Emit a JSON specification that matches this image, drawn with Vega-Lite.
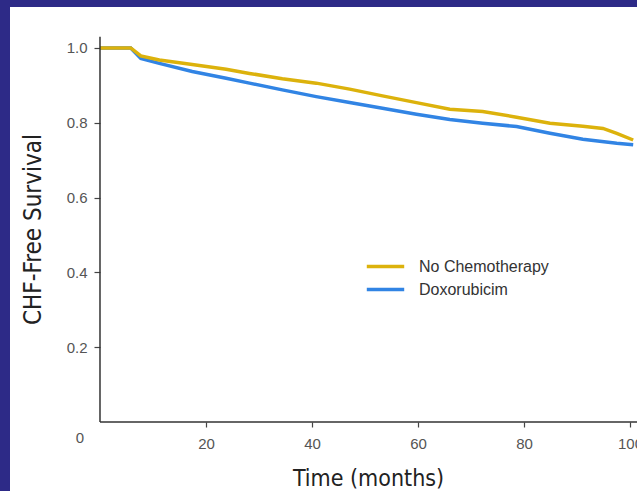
{
  "$schema": "https://vega.github.io/schema/vega-lite/v6.json",
  "width": 627,
  "height": 484,
  "autosize": {"type": "none"},
  "padding": {"left": 10, "top": 7, "right": 0, "bottom": 0},
  "background": "#2d2a87",
  "config": {
    "view": {"stroke": null, "fill": "#ffffff"},
    "font": "Liberation Sans"
  },
  "datasets": {
    "curves": [
      {"t": 0, "s": 1.0, "group": "Doxorubicim"},
      {"t": 5.8, "s": 1.0, "group": "Doxorubicim"},
      {"t": 7.7, "s": 0.972, "group": "Doxorubicim"},
      {"t": 11.2, "s": 0.959, "group": "Doxorubicim"},
      {"t": 17.4, "s": 0.937, "group": "Doxorubicim"},
      {"t": 23.8, "s": 0.919, "group": "Doxorubicim"},
      {"t": 28.2, "s": 0.906, "group": "Doxorubicim"},
      {"t": 34.4, "s": 0.888, "group": "Doxorubicim"},
      {"t": 40.8, "s": 0.870, "group": "Doxorubicim"},
      {"t": 47.1, "s": 0.854, "group": "Doxorubicim"},
      {"t": 53.3, "s": 0.839, "group": "Doxorubicim"},
      {"t": 59.7, "s": 0.823, "group": "Doxorubicim"},
      {"t": 66.0, "s": 0.809, "group": "Doxorubicim"},
      {"t": 72.2, "s": 0.799, "group": "Doxorubicim"},
      {"t": 78.6, "s": 0.790, "group": "Doxorubicim"},
      {"t": 84.9, "s": 0.772, "group": "Doxorubicim"},
      {"t": 91.1, "s": 0.756, "group": "Doxorubicim"},
      {"t": 97.5, "s": 0.745, "group": "Doxorubicim"},
      {"t": 100.6, "s": 0.741, "group": "Doxorubicim"},
      {"t": 0, "s": 1.0, "group": "No Chemotherapy"},
      {"t": 5.8, "s": 1.0, "group": "No Chemotherapy"},
      {"t": 7.7, "s": 0.979, "group": "No Chemotherapy"},
      {"t": 11.2, "s": 0.968, "group": "No Chemotherapy"},
      {"t": 17.4, "s": 0.956, "group": "No Chemotherapy"},
      {"t": 23.8, "s": 0.943, "group": "No Chemotherapy"},
      {"t": 28.2, "s": 0.932, "group": "No Chemotherapy"},
      {"t": 34.4, "s": 0.918, "group": "No Chemotherapy"},
      {"t": 40.8, "s": 0.906, "group": "No Chemotherapy"},
      {"t": 47.1, "s": 0.890, "group": "No Chemotherapy"},
      {"t": 53.3, "s": 0.872, "group": "No Chemotherapy"},
      {"t": 59.7, "s": 0.854, "group": "No Chemotherapy"},
      {"t": 66.0, "s": 0.836, "group": "No Chemotherapy"},
      {"t": 72.2, "s": 0.830, "group": "No Chemotherapy"},
      {"t": 78.6, "s": 0.815, "group": "No Chemotherapy"},
      {"t": 84.9, "s": 0.799, "group": "No Chemotherapy"},
      {"t": 91.1, "s": 0.791, "group": "No Chemotherapy"},
      {"t": 94.9, "s": 0.785, "group": "No Chemotherapy"},
      {"t": 97.5, "s": 0.772, "group": "No Chemotherapy"},
      {"t": 100.6, "s": 0.754, "group": "No Chemotherapy"}
    ],
    "single": [{"label": "0"}]
  },
  "layer": [
    {
      "data": {"name": "curves"},
      "mark": {"type": "line", "strokeWidth": 3.5, "interpolate": "linear"},
      "encoding": {
        "x": {
          "field": "t",
          "type": "quantitative",
          "scale": {"domain": [-16.98, 101.32], "nice": false, "zero": false},
          "axis": {
            "orient": "bottom",
            "offset": -69,
            "domain": false,
            "grid": false,
            "values": [20, 40, 60, 80, 100],
            "tickSize": 5,
            "tickColor": "#444",
            "tickWidth": 1.2,
            "labelPadding": 9,
            "labelFontSize": 15,
            "labelColor": "#555",
            "labelFont": "Liberation Sans",
            "title": "Time (months)",
            "titleFont": "'Liberation Sans Narrow', 'DejaVu Sans Condensed', sans-serif",
            "titleFontSize": 23,
            "titleFontWeight": "normal",
            "titleColor": "#222",
            "titleX": 358,
            "titleY": 63,
            "titleAlign": "center",
            "titleBaseline": "alphabetic"
          }
        },
        "y": {
          "field": "s",
          "type": "quantitative",
          "scale": {"domain": [-0.1845, 1.1096], "nice": false, "zero": false},
          "axis": {
            "orient": "left",
            "offset": -90,
            "domain": false,
            "grid": false,
            "values": [0.2, 0.4, 0.6, 0.8, 1.0],
            "format": ".1f",
            "tickSize": 6,
            "tickColor": "#444",
            "tickWidth": 1.2,
            "labelPadding": 7,
            "labelFontSize": 15,
            "labelColor": "#555",
            "labelFont": "Liberation Sans",
            "title": "CHF-Free Survival",
            "titleFont": "'Liberation Sans Narrow', 'DejaVu Sans Condensed', sans-serif",
            "titleFontSize": 24,
            "titleFontWeight": "normal",
            "titleColor": "#222",
            "titleX": -67,
            "titleY": 222,
            "titleAngle": 270,
            "titleAlign": "center",
            "titleBaseline": "middle"
          }
        },
        "color": {
          "field": "group",
          "type": "nominal",
          "scale": {"domain": ["No Chemotherapy", "Doxorubicim"], "range": ["#dcb20c", "#3184e4"]},
          "legend": {
            "orient": "none",
            "legendX": 355,
            "legendY": 248,
            "title": null,
            "padding": 0,
            "symbolType": "stroke",
            "symbolSize": 1400,
            "symbolStrokeWidth": 3.5,
            "labelFontSize": 16,
            "labelColor": "#333",
            "labelFont": "Liberation Sans",
            "labelOffset": 13,
            "clipHeight": 23,
            "rowPadding": 0
          }
        }
      }
    },
    {
      "data": {"name": "single"},
      "mark": {"type": "rule", "color": "#333", "strokeWidth": 1.5},
      "encoding": {
        "x": {"datum": 0, "type": "quantitative"},
        "y": {"datum": 0, "type": "quantitative"},
        "y2": {"datum": 1.03}
      }
    },
    {
      "data": {"name": "single"},
      "mark": {"type": "rule", "color": "#333", "strokeWidth": 1.5},
      "encoding": {
        "x": {"datum": 0, "type": "quantitative"},
        "x2": {"datum": 101.32},
        "y": {"datum": 0, "type": "quantitative"}
      }
    },
    {
      "data": {"name": "single"},
      "mark": {"type": "text", "dx": -20, "dy": 9, "baseline": "top", "align": "center", "fontSize": 15, "color": "#555", "font": "Liberation Sans"},
      "encoding": {
        "x": {"datum": 0, "type": "quantitative"},
        "y": {"datum": 0, "type": "quantitative"},
        "text": {"field": "label", "type": "nominal"}
      }
    }
  ]
}
